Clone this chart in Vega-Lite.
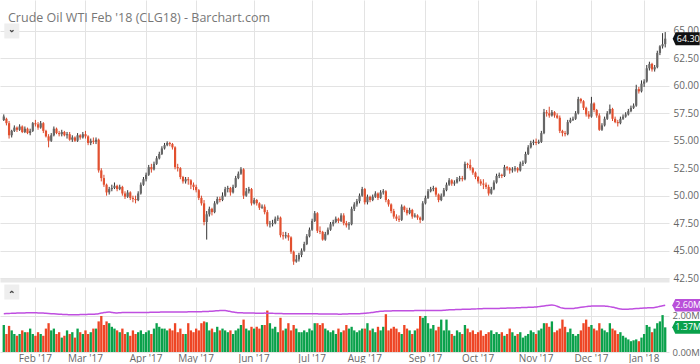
{
"$schema":"https://vega.github.io/schema/vega-lite/v6.json",
"padding":0,
"autosize":{"type":"pad"},
"background":"white",
"spacing":0,
"config":{"font":"Open Sans","view":{"stroke":null},
"axis":{"labelColor":"#666","labelFontSize":10,"gridColor":"#e3e3e3","ticks":false,"domain":false,"title":null,"labelOverlap":false}},
"datasets":{
"p":[
{"d":"2017-01-13","o":56.9,"h":57.4,"l":56.8,"c":57.2,"v":1.5,"oi":2.13},
{"d":"2017-01-17","o":57.0,"h":57.1,"l":56.4,"c":56.6,"v":1.0,"oi":2.14},
{"d":"2017-01-18","o":56.6,"h":56.8,"l":55.2,"c":55.5,"v":1.45,"oi":2.14},
{"d":"2017-01-19","o":55.5,"h":56.0,"l":55.3,"c":55.9,"v":1.2,"oi":2.15},
{"d":"2017-01-20","o":55.9,"h":56.4,"l":55.8,"c":56.2,"v":1.0,"oi":2.15},
{"d":"2017-01-23","o":56.2,"h":56.3,"l":55.8,"c":56.0,"v":0.9,"oi":2.16},
{"d":"2017-01-24","o":56.0,"h":56.5,"l":55.9,"c":56.3,"v":1.0,"oi":2.16},
{"d":"2017-01-25","o":56.3,"h":56.4,"l":55.7,"c":55.8,"v":1.2,"oi":2.17},
{"d":"2017-01-26","o":55.8,"h":56.3,"l":55.7,"c":56.1,"v":1.1,"oi":2.17},
{"d":"2017-01-27","o":56.1,"h":56.2,"l":55.6,"c":55.7,"v":1.1,"oi":2.18},
{"d":"2017-01-30","o":55.7,"h":56.1,"l":55.5,"c":55.9,"v":1.3,"oi":2.18},
{"d":"2017-01-31","o":55.9,"h":56.7,"l":55.8,"c":56.6,"v":1.0,"oi":2.18},
{"d":"2017-02-01","o":56.6,"h":56.9,"l":56.3,"c":56.5,"v":0.9,"oi":2.18},
{"d":"2017-02-02","o":56.5,"h":56.7,"l":56.0,"c":56.2,"v":1.1,"oi":2.17},
{"d":"2017-02-03","o":56.2,"h":56.8,"l":56.1,"c":56.6,"v":1.0,"oi":2.17},
{"d":"2017-02-06","o":56.6,"h":56.7,"l":55.7,"c":55.9,"v":0.9,"oi":2.16},
{"d":"2017-02-07","o":55.9,"h":56.0,"l":55.3,"c":55.4,"v":1.3,"oi":2.15},
{"d":"2017-02-08","o":55.4,"h":55.6,"l":54.4,"c":55.0,"v":1.6,"oi":2.14},
{"d":"2017-02-09","o":55.0,"h":55.7,"l":54.9,"c":55.5,"v":1.2,"oi":2.13},
{"d":"2017-02-10","o":55.5,"h":56.3,"l":55.4,"c":56.1,"v":1.3,"oi":2.12},
{"d":"2017-02-13","o":56.1,"h":56.2,"l":55.6,"c":55.7,"v":1.0,"oi":2.11},
{"d":"2017-02-14","o":55.7,"h":55.9,"l":55.4,"c":55.6,"v":1.1,"oi":2.10},
{"d":"2017-02-15","o":55.6,"h":56.0,"l":55.4,"c":55.8,"v":0.8,"oi":2.09},
{"d":"2017-02-16","o":55.8,"h":55.9,"l":55.4,"c":55.5,"v":0.9,"oi":2.08},
{"d":"2017-02-17","o":55.5,"h":55.8,"l":55.2,"c":55.6,"v":1.2,"oi":2.08},
{"d":"2017-02-21","o":55.6,"h":55.8,"l":55.0,"c":55.1,"v":1.0,"oi":2.07},
{"d":"2017-02-22","o":55.1,"h":55.5,"l":54.9,"c":55.3,"v":1.1,"oi":2.07},
{"d":"2017-02-23","o":55.3,"h":55.4,"l":54.9,"c":55.0,"v":0.8,"oi":2.07},
{"d":"2017-02-24","o":55.0,"h":55.7,"l":54.9,"c":55.5,"v":1.3,"oi":2.07},
{"d":"2017-02-27","o":55.5,"h":55.6,"l":55.1,"c":55.3,"v":1.1,"oi":2.08},
{"d":"2017-02-28","o":55.3,"h":55.8,"l":55.2,"c":55.6,"v":1.0,"oi":2.08},
{"d":"2017-03-01","o":55.6,"h":55.9,"l":55.2,"c":55.4,"v":1.2,"oi":2.08},
{"d":"2017-03-02","o":55.4,"h":55.5,"l":54.6,"c":54.8,"v":1.0,"oi":2.09},
{"d":"2017-03-03","o":54.8,"h":55.2,"l":54.6,"c":55.0,"v":1.1,"oi":2.09},
{"d":"2017-03-06","o":55.0,"h":55.3,"l":54.7,"c":54.9,"v":1.3,"oi":2.10},
{"d":"2017-03-07","o":54.9,"h":55.3,"l":54.7,"c":55.1,"v":1.3,"oi":2.11},
{"d":"2017-03-08","o":55.1,"h":55.2,"l":52.1,"c":52.3,"v":1.7,"oi":2.13},
{"d":"2017-03-09","o":52.3,"h":52.5,"l":51.3,"c":51.6,"v":2.0,"oi":2.16},
{"d":"2017-03-10","o":51.6,"h":51.9,"l":50.8,"c":51.0,"v":1.5,"oi":2.19},
{"d":"2017-03-13","o":51.0,"h":51.1,"l":50.0,"c":50.3,"v":1.7,"oi":2.21},
{"d":"2017-03-14","o":50.3,"h":50.8,"l":50.1,"c":50.6,"v":1.6,"oi":2.22},
{"d":"2017-03-15","o":50.6,"h":51.0,"l":50.4,"c":50.7,"v":1.4,"oi":2.20},
{"d":"2017-03-16","o":50.7,"h":51.2,"l":50.6,"c":50.9,"v":1.3,"oi":2.18},
{"d":"2017-03-17","o":50.9,"h":51.0,"l":50.4,"c":50.6,"v":1.2,"oi":2.17},
{"d":"2017-03-20","o":50.6,"h":51.0,"l":50.5,"c":50.8,"v":1.1,"oi":2.18},
{"d":"2017-03-21","o":50.8,"h":50.9,"l":50.0,"c":50.2,"v":1.3,"oi":2.19},
{"d":"2017-03-22","o":50.2,"h":50.4,"l":49.7,"c":49.9,"v":1.0,"oi":2.19},
{"d":"2017-03-23","o":49.9,"h":50.5,"l":49.8,"c":50.3,"v":1.1,"oi":2.20},
{"d":"2017-03-24","o":50.3,"h":50.4,"l":49.6,"c":49.8,"v":0.9,"oi":2.20},
{"d":"2017-03-27","o":49.8,"h":50.0,"l":49.4,"c":49.7,"v":1.2,"oi":2.20},
{"d":"2017-03-28","o":49.7,"h":50.0,"l":49.3,"c":49.6,"v":1.0,"oi":2.19},
{"d":"2017-03-29","o":49.6,"h":50.4,"l":49.5,"c":50.2,"v":1.1,"oi":2.19},
{"d":"2017-03-30","o":50.2,"h":51.2,"l":50.1,"c":51.0,"v":1.2,"oi":2.20},
{"d":"2017-03-31","o":51.0,"h":51.7,"l":50.9,"c":51.5,"v":1.0,"oi":2.20},
{"d":"2017-04-03","o":51.5,"h":52.1,"l":51.3,"c":51.9,"v":1.1,"oi":2.20},
{"d":"2017-04-04","o":51.9,"h":52.8,"l":51.8,"c":52.6,"v":1.2,"oi":2.20},
{"d":"2017-04-05","o":52.6,"h":52.9,"l":52.1,"c":52.4,"v":1.0,"oi":2.21},
{"d":"2017-04-06","o":52.4,"h":53.1,"l":52.3,"c":52.9,"v":1.3,"oi":2.21},
{"d":"2017-04-07","o":52.9,"h":53.6,"l":52.8,"c":53.4,"v":1.6,"oi":2.21},
{"d":"2017-04-10","o":53.4,"h":54.0,"l":53.3,"c":53.8,"v":1.4,"oi":2.21},
{"d":"2017-04-11","o":53.8,"h":54.5,"l":53.7,"c":54.3,"v":1.3,"oi":2.22},
{"d":"2017-04-12","o":54.3,"h":54.8,"l":54.2,"c":54.6,"v":1.3,"oi":2.22},
{"d":"2017-04-13","o":54.6,"h":54.95,"l":54.5,"c":54.8,"v":1.2,"oi":2.22},
{"d":"2017-04-17","o":54.8,"h":54.9,"l":54.5,"c":54.7,"v":1.3,"oi":2.22},
{"d":"2017-04-18","o":54.7,"h":54.8,"l":54.2,"c":54.4,"v":1.2,"oi":2.22},
{"d":"2017-04-19","o":54.4,"h":54.5,"l":52.4,"c":52.6,"v":1.6,"oi":2.22},
{"d":"2017-04-20","o":52.6,"h":52.9,"l":52.2,"c":52.5,"v":1.1,"oi":2.22},
{"d":"2017-04-21","o":52.5,"h":52.6,"l":51.5,"c":51.7,"v":1.3,"oi":2.22},
{"d":"2017-04-24","o":51.7,"h":51.8,"l":51.1,"c":51.3,"v":1.0,"oi":2.22},
{"d":"2017-04-25","o":51.3,"h":51.7,"l":51.1,"c":51.5,"v":1.0,"oi":2.22},
{"d":"2017-04-26","o":51.5,"h":51.7,"l":51.0,"c":51.4,"v":1.6,"oi":2.23},
{"d":"2017-04-27","o":51.4,"h":51.5,"l":50.6,"c":51.0,"v":1.2,"oi":2.23},
{"d":"2017-04-28","o":51.0,"h":51.2,"l":50.5,"c":50.8,"v":1.1,"oi":2.23},
{"d":"2017-05-01","o":50.8,"h":51.0,"l":50.3,"c":50.5,"v":1.3,"oi":2.23},
{"d":"2017-05-02","o":50.5,"h":50.6,"l":49.6,"c":49.8,"v":1.2,"oi":2.24},
{"d":"2017-05-03","o":49.8,"h":50.0,"l":49.1,"c":49.3,"v":1.6,"oi":2.24},
{"d":"2017-05-04","o":49.3,"h":49.6,"l":47.3,"c":47.6,"v":1.7,"oi":2.25},
{"d":"2017-05-05","o":47.6,"h":48.6,"l":46.0,"c":48.3,"v":1.65,"oi":2.25},
{"d":"2017-05-08","o":48.3,"h":49.0,"l":48.1,"c":48.8,"v":1.2,"oi":2.26},
{"d":"2017-05-09","o":48.8,"h":48.9,"l":48.2,"c":48.5,"v":1.3,"oi":2.27},
{"d":"2017-05-10","o":48.5,"h":49.5,"l":48.4,"c":49.3,"v":1.1,"oi":2.28},
{"d":"2017-05-11","o":49.3,"h":49.9,"l":49.2,"c":49.7,"v":1.4,"oi":2.29},
{"d":"2017-05-12","o":49.7,"h":49.9,"l":49.4,"c":49.6,"v":1.2,"oi":2.30},
{"d":"2017-05-15","o":49.6,"h":50.3,"l":49.5,"c":50.0,"v":1.3,"oi":2.31},
{"d":"2017-05-16","o":50.0,"h":50.8,"l":49.9,"c":50.6,"v":1.2,"oi":2.30},
{"d":"2017-05-17","o":50.6,"h":50.9,"l":50.3,"c":50.7,"v":1.1,"oi":2.28},
{"d":"2017-05-18","o":50.7,"h":50.8,"l":50.0,"c":50.3,"v":1.2,"oi":2.25},
{"d":"2017-05-19","o":50.3,"h":51.0,"l":50.2,"c":50.8,"v":1.0,"oi":2.22},
{"d":"2017-05-22","o":50.8,"h":51.8,"l":50.7,"c":51.6,"v":1.2,"oi":2.20},
{"d":"2017-05-23","o":51.6,"h":52.2,"l":51.5,"c":52.0,"v":1.3,"oi":2.18},
{"d":"2017-05-24","o":52.0,"h":52.6,"l":51.9,"c":52.4,"v":1.5,"oi":2.18},
{"d":"2017-05-25","o":52.4,"h":52.5,"l":49.7,"c":50.0,"v":1.8,"oi":2.17},
{"d":"2017-05-26","o":50.0,"h":50.7,"l":49.9,"c":50.4,"v":1.3,"oi":2.17},
{"d":"2017-05-30","o":50.4,"h":50.8,"l":50.2,"c":50.6,"v":1.2,"oi":2.16},
{"d":"2017-05-31","o":50.6,"h":50.7,"l":49.1,"c":49.3,"v":1.4,"oi":2.16},
{"d":"2017-06-01","o":49.3,"h":49.8,"l":49.2,"c":49.6,"v":1.3,"oi":2.16},
{"d":"2017-06-02","o":49.6,"h":49.7,"l":49.1,"c":49.3,"v":1.4,"oi":2.15},
{"d":"2017-06-05","o":49.3,"h":49.4,"l":48.7,"c":48.9,"v":1.3,"oi":2.15},
{"d":"2017-06-06","o":48.9,"h":49.2,"l":48.8,"c":49.0,"v":1.5,"oi":2.15},
{"d":"2017-06-07","o":49.0,"h":49.2,"l":48.3,"c":48.5,"v":1.5,"oi":2.16},
{"d":"2017-06-08","o":48.5,"h":48.7,"l":47.2,"c":47.4,"v":2.3,"oi":2.15},
{"d":"2017-06-09","o":47.4,"h":47.7,"l":47.1,"c":47.45,"v":1.6,"oi":2.15},
{"d":"2017-06-12","o":47.4,"h":47.8,"l":47.2,"c":47.5,"v":1.3,"oi":2.15},
{"d":"2017-06-13","o":47.5,"h":48.1,"l":47.4,"c":47.9,"v":1.4,"oi":2.14},
{"d":"2017-06-14","o":47.9,"h":48.2,"l":47.7,"c":48.0,"v":1.1,"oi":2.14},
{"d":"2017-06-15","o":48.0,"h":48.1,"l":46.2,"c":46.4,"v":1.9,"oi":2.14},
{"d":"2017-06-16","o":46.4,"h":46.7,"l":46.0,"c":46.3,"v":1.2,"oi":2.13},
{"d":"2017-06-19","o":46.3,"h":46.7,"l":46.1,"c":46.4,"v":1.3,"oi":2.13},
{"d":"2017-06-20","o":46.4,"h":46.6,"l":45.9,"c":46.2,"v":1.6,"oi":2.13},
{"d":"2017-06-21","o":46.2,"h":46.3,"l":44.7,"c":44.9,"v":1.2,"oi":2.13},
{"d":"2017-06-22","o":44.9,"h":45.0,"l":43.7,"c":44.0,"v":1.5,"oi":2.13},
{"d":"2017-06-23","o":44.0,"h":44.6,"l":43.9,"c":44.2,"v":1.3,"oi":2.12},
{"d":"2017-06-26","o":44.2,"h":44.8,"l":44.0,"c":44.6,"v":1.1,"oi":2.12},
{"d":"2017-06-27","o":44.6,"h":45.2,"l":44.4,"c":45.0,"v":1.1,"oi":2.12},
{"d":"2017-06-28","o":45.0,"h":45.8,"l":44.9,"c":45.6,"v":1.2,"oi":2.12},
{"d":"2017-06-29","o":45.6,"h":46.5,"l":45.5,"c":46.3,"v":1.1,"oi":2.12},
{"d":"2017-06-30","o":46.3,"h":47.1,"l":46.2,"c":46.9,"v":1.3,"oi":2.12},
{"d":"2017-07-03","o":46.9,"h":47.9,"l":46.8,"c":47.7,"v":1.2,"oi":2.12},
{"d":"2017-07-05","o":47.7,"h":48.6,"l":47.6,"c":48.4,"v":1.6,"oi":2.12},
{"d":"2017-07-06","o":48.4,"h":48.5,"l":46.6,"c":46.8,"v":1.6,"oi":2.12},
{"d":"2017-07-07","o":46.8,"h":47.2,"l":46.5,"c":46.7,"v":1.5,"oi":2.11},
{"d":"2017-07-10","o":46.7,"h":46.8,"l":45.9,"c":46.0,"v":1.6,"oi":2.11},
{"d":"2017-07-11","o":46.0,"h":46.7,"l":45.9,"c":46.5,"v":1.3,"oi":2.11},
{"d":"2017-07-12","o":46.5,"h":47.1,"l":46.4,"c":46.9,"v":1.2,"oi":2.11},
{"d":"2017-07-13","o":46.9,"h":47.6,"l":46.8,"c":47.4,"v":1.1,"oi":2.11},
{"d":"2017-07-14","o":47.4,"h":47.8,"l":47.2,"c":47.6,"v":1.2,"oi":2.11},
{"d":"2017-07-17","o":47.6,"h":48.1,"l":47.5,"c":47.9,"v":1.0,"oi":2.11},
{"d":"2017-07-18","o":47.9,"h":48.0,"l":47.5,"c":47.7,"v":1.3,"oi":2.10},
{"d":"2017-07-19","o":47.7,"h":48.4,"l":47.6,"c":48.2,"v":1.1,"oi":2.10},
{"d":"2017-07-20","o":48.2,"h":48.4,"l":47.3,"c":47.5,"v":1.2,"oi":2.11},
{"d":"2017-07-21","o":47.5,"h":47.7,"l":47.1,"c":47.3,"v":1.5,"oi":2.11},
{"d":"2017-07-24","o":47.3,"h":47.6,"l":46.9,"c":47.4,"v":1.3,"oi":2.12},
{"d":"2017-07-25","o":47.4,"h":49.0,"l":47.3,"c":48.8,"v":1.4,"oi":2.12},
{"d":"2017-07-26","o":48.8,"h":49.4,"l":48.6,"c":49.2,"v":1.2,"oi":2.13},
{"d":"2017-07-27","o":49.2,"h":49.7,"l":49.0,"c":49.5,"v":1.1,"oi":2.13},
{"d":"2017-07-28","o":49.5,"h":50.2,"l":49.3,"c":50.0,"v":1.2,"oi":2.13},
{"d":"2017-07-31","o":50.0,"h":50.8,"l":49.9,"c":50.6,"v":1.3,"oi":2.14},
{"d":"2017-08-01","o":50.6,"h":50.7,"l":49.2,"c":49.4,"v":1.3,"oi":2.15},
{"d":"2017-08-02","o":49.4,"h":50.1,"l":49.2,"c":49.9,"v":1.6,"oi":2.16},
{"d":"2017-08-03","o":49.9,"h":50.0,"l":49.4,"c":49.6,"v":1.2,"oi":2.18},
{"d":"2017-08-04","o":49.6,"h":50.1,"l":49.5,"c":49.9,"v":1.3,"oi":2.20},
{"d":"2017-08-07","o":49.9,"h":50.4,"l":49.8,"c":50.2,"v":1.1,"oi":2.22},
{"d":"2017-08-08","o":50.2,"h":50.3,"l":49.6,"c":49.8,"v":1.4,"oi":2.24},
{"d":"2017-08-09","o":49.8,"h":50.5,"l":49.7,"c":50.3,"v":1.2,"oi":2.26},
{"d":"2017-08-10","o":50.3,"h":50.6,"l":50.1,"c":50.4,"v":1.4,"oi":2.27},
{"d":"2017-08-11","o":50.4,"h":50.5,"l":49.4,"c":49.6,"v":2.1,"oi":2.28},
{"d":"2017-08-14","o":49.6,"h":49.7,"l":49.0,"c":49.2,"v":1.2,"oi":2.28},
{"d":"2017-08-15","o":49.2,"h":49.3,"l":48.4,"c":48.6,"v":1.3,"oi":2.28},
{"d":"2017-08-16","o":48.6,"h":48.8,"l":47.9,"c":48.1,"v":1.4,"oi":2.29},
{"d":"2017-08-17","o":48.1,"h":48.3,"l":47.7,"c":47.9,"v":1.3,"oi":2.29},
{"d":"2017-08-18","o":47.9,"h":48.2,"l":47.6,"c":47.8,"v":1.1,"oi":2.29},
{"d":"2017-08-21","o":47.8,"h":49.2,"l":47.7,"c":49.0,"v":1.0,"oi":2.29},
{"d":"2017-08-22","o":49.0,"h":49.1,"l":48.5,"c":48.7,"v":1.5,"oi":2.29},
{"d":"2017-08-23","o":48.7,"h":48.9,"l":48.2,"c":48.4,"v":1.3,"oi":2.29},
{"d":"2017-08-24","o":48.4,"h":48.9,"l":48.3,"c":48.7,"v":1.2,"oi":2.29},
{"d":"2017-08-25","o":48.7,"h":48.8,"l":47.9,"c":48.1,"v":1.0,"oi":2.29},
{"d":"2017-08-28","o":48.1,"h":48.4,"l":48.0,"c":48.2,"v":1.2,"oi":2.30},
{"d":"2017-08-29","o":48.2,"h":48.3,"l":47.8,"c":48.0,"v":1.3,"oi":2.30},
{"d":"2017-08-30","o":48.0,"h":48.1,"l":47.5,"c":47.8,"v":2.0,"oi":2.30},
{"d":"2017-08-31","o":47.8,"h":49.5,"l":47.7,"c":49.3,"v":1.9,"oi":2.30},
{"d":"2017-09-01","o":49.3,"h":50.0,"l":49.2,"c":49.8,"v":2.0,"oi":2.30},
{"d":"2017-09-05","o":49.8,"h":50.6,"l":49.7,"c":50.4,"v":1.6,"oi":2.30},
{"d":"2017-09-06","o":50.4,"h":50.8,"l":50.3,"c":50.6,"v":1.3,"oi":2.30},
{"d":"2017-09-07","o":50.6,"h":50.9,"l":50.4,"c":50.7,"v":1.5,"oi":2.30},
{"d":"2017-09-08","o":50.7,"h":50.8,"l":49.9,"c":50.1,"v":1.2,"oi":2.30},
{"d":"2017-09-11","o":50.1,"h":50.2,"l":49.4,"c":49.6,"v":1.4,"oi":2.30},
{"d":"2017-09-12","o":49.6,"h":50.2,"l":49.5,"c":50.0,"v":1.8,"oi":2.31},
{"d":"2017-09-13","o":50.0,"h":50.7,"l":49.9,"c":50.5,"v":1.2,"oi":2.32},
{"d":"2017-09-14","o":50.5,"h":51.2,"l":50.4,"c":51.0,"v":1.8,"oi":2.33},
{"d":"2017-09-15","o":51.0,"h":51.6,"l":50.9,"c":51.4,"v":1.2,"oi":2.34},
{"d":"2017-09-18","o":51.4,"h":51.5,"l":50.9,"c":51.1,"v":1.0,"oi":2.35},
{"d":"2017-09-19","o":51.1,"h":51.4,"l":50.9,"c":51.2,"v":0.9,"oi":2.35},
{"d":"2017-09-20","o":51.2,"h":51.7,"l":51.1,"c":51.5,"v":1.2,"oi":2.36},
{"d":"2017-09-21","o":51.5,"h":51.8,"l":51.3,"c":51.6,"v":1.1,"oi":2.36},
{"d":"2017-09-22","o":51.6,"h":51.8,"l":51.3,"c":51.5,"v":1.0,"oi":2.37},
{"d":"2017-09-25","o":51.5,"h":53.1,"l":51.4,"c":52.9,"v":1.5,"oi":2.37},
{"d":"2017-09-26","o":52.9,"h":53.0,"l":52.5,"c":52.8,"v":1.3,"oi":2.38},
{"d":"2017-09-27","o":52.8,"h":53.3,"l":52.3,"c":52.5,"v":1.1,"oi":2.38},
{"d":"2017-09-28","o":52.5,"h":52.6,"l":51.9,"c":52.1,"v":1.2,"oi":2.39},
{"d":"2017-09-29","o":52.1,"h":52.2,"l":51.5,"c":51.7,"v":1.0,"oi":2.39},
{"d":"2017-10-02","o":51.7,"h":51.8,"l":51.1,"c":51.3,"v":1.1,"oi":2.40},
{"d":"2017-10-03","o":51.3,"h":51.5,"l":50.9,"c":51.1,"v":1.2,"oi":2.40},
{"d":"2017-10-04","o":51.1,"h":51.5,"l":50.6,"c":51.0,"v":0.9,"oi":2.41},
{"d":"2017-10-05","o":51.0,"h":51.2,"l":50.6,"c":50.8,"v":1.0,"oi":2.41},
{"d":"2017-10-06","o":50.8,"h":51.0,"l":50.0,"c":50.2,"v":1.1,"oi":2.41},
{"d":"2017-10-09","o":50.2,"h":50.8,"l":50.1,"c":50.6,"v":1.2,"oi":2.41},
{"d":"2017-10-10","o":50.6,"h":51.4,"l":50.5,"c":51.2,"v":1.0,"oi":2.42},
{"d":"2017-10-11","o":51.2,"h":52.0,"l":51.1,"c":51.8,"v":1.1,"oi":2.42},
{"d":"2017-10-12","o":51.8,"h":52.1,"l":51.6,"c":51.9,"v":1.0,"oi":2.42},
{"d":"2017-10-13","o":51.9,"h":52.0,"l":51.6,"c":51.8,"v":1.1,"oi":2.43},
{"d":"2017-10-16","o":51.8,"h":52.8,"l":51.7,"c":52.6,"v":0.9,"oi":2.43},
{"d":"2017-10-17","o":52.6,"h":52.7,"l":52.3,"c":52.5,"v":1.0,"oi":2.44},
{"d":"2017-10-18","o":52.5,"h":52.6,"l":52.0,"c":52.3,"v":1.3,"oi":2.44},
{"d":"2017-10-19","o":52.3,"h":52.6,"l":52.1,"c":52.4,"v":1.1,"oi":2.45},
{"d":"2017-10-20","o":52.4,"h":52.7,"l":52.2,"c":52.5,"v":0.9,"oi":2.45},
{"d":"2017-10-23","o":52.5,"h":52.6,"l":52.1,"c":52.3,"v":1.0,"oi":2.46},
{"d":"2017-10-24","o":52.3,"h":53.1,"l":52.2,"c":52.9,"v":1.1,"oi":2.46},
{"d":"2017-10-25","o":52.9,"h":53.2,"l":52.7,"c":53.0,"v":0.8,"oi":2.47},
{"d":"2017-10-26","o":53.0,"h":54.0,"l":52.9,"c":53.8,"v":0.9,"oi":2.47},
{"d":"2017-10-27","o":53.8,"h":54.6,"l":53.7,"c":54.4,"v":1.0,"oi":2.48},
{"d":"2017-10-30","o":54.4,"h":55.0,"l":54.3,"c":54.8,"v":1.2,"oi":2.48},
{"d":"2017-10-31","o":54.8,"h":55.1,"l":54.6,"c":54.9,"v":1.1,"oi":2.49},
{"d":"2017-11-01","o":54.9,"h":55.2,"l":54.6,"c":54.8,"v":1.0,"oi":2.50},
{"d":"2017-11-02","o":54.8,"h":55.1,"l":54.7,"c":54.9,"v":1.2,"oi":2.52},
{"d":"2017-11-03","o":54.9,"h":55.9,"l":54.8,"c":55.7,"v":1.3,"oi":2.54},
{"d":"2017-11-06","o":55.7,"h":57.9,"l":55.6,"c":57.6,"v":1.6,"oi":2.56},
{"d":"2017-11-07","o":57.6,"h":57.8,"l":57.2,"c":57.5,"v":1.6,"oi":2.58},
{"d":"2017-11-08","o":57.5,"h":58.1,"l":57.1,"c":57.3,"v":1.4,"oi":2.60},
{"d":"2017-11-09","o":57.3,"h":57.8,"l":57.2,"c":57.6,"v":1.7,"oi":2.61},
{"d":"2017-11-10","o":57.6,"h":57.7,"l":57.1,"c":57.3,"v":1.1,"oi":2.59},
{"d":"2017-11-13","o":57.3,"h":57.5,"l":57.0,"c":57.1,"v":1.2,"oi":2.54},
{"d":"2017-11-14","o":57.1,"h":57.3,"l":55.7,"c":55.9,"v":1.3,"oi":2.48},
{"d":"2017-11-15","o":55.9,"h":56.0,"l":55.4,"c":55.7,"v":1.8,"oi":2.44},
{"d":"2017-11-16","o":55.7,"h":55.9,"l":55.4,"c":55.6,"v":1.4,"oi":2.42},
{"d":"2017-11-17","o":55.6,"h":56.9,"l":55.5,"c":56.7,"v":1.1,"oi":2.41},
{"d":"2017-11-20","o":56.7,"h":57.1,"l":56.6,"c":56.9,"v":1.3,"oi":2.41},
{"d":"2017-11-21","o":56.9,"h":57.2,"l":56.8,"c":57.0,"v":1.0,"oi":2.42},
{"d":"2017-11-22","o":57.0,"h":57.7,"l":56.9,"c":57.5,"v":0.9,"oi":2.44},
{"d":"2017-11-24","o":57.5,"h":59.0,"l":57.4,"c":58.8,"v":1.0,"oi":2.46},
{"d":"2017-11-27","o":58.8,"h":58.9,"l":58.4,"c":58.6,"v":1.2,"oi":2.48},
{"d":"2017-11-28","o":58.6,"h":58.7,"l":57.8,"c":58.0,"v":1.6,"oi":2.50},
{"d":"2017-11-29","o":58.0,"h":58.1,"l":57.2,"c":57.4,"v":1.8,"oi":2.52},
{"d":"2017-11-30","o":57.4,"h":57.7,"l":57.0,"c":57.2,"v":1.4,"oi":2.54},
{"d":"2017-12-01","o":57.2,"h":59.0,"l":57.1,"c":58.4,"v":1.5,"oi":2.55},
{"d":"2017-12-04","o":58.4,"h":58.5,"l":57.6,"c":57.8,"v":1.3,"oi":2.56},
{"d":"2017-12-05","o":57.8,"h":57.9,"l":57.1,"c":57.3,"v":1.2,"oi":2.56},
{"d":"2017-12-06","o":57.3,"h":57.5,"l":55.9,"c":56.0,"v":1.6,"oi":2.56},
{"d":"2017-12-07","o":56.0,"h":56.6,"l":55.9,"c":56.4,"v":1.3,"oi":2.56},
{"d":"2017-12-08","o":56.4,"h":57.2,"l":56.3,"c":57.0,"v":1.2,"oi":2.55},
{"d":"2017-12-11","o":57.0,"h":57.7,"l":56.9,"c":57.5,"v":1.1,"oi":2.54},
{"d":"2017-12-12","o":57.5,"h":58.3,"l":57.4,"c":57.9,"v":1.6,"oi":2.52},
{"d":"2017-12-13","o":57.9,"h":58.0,"l":56.8,"c":57.0,"v":1.3,"oi":2.49},
{"d":"2017-12-14","o":57.0,"h":57.2,"l":56.6,"c":56.7,"v":1.2,"oi":2.46},
{"d":"2017-12-15","o":56.7,"h":56.9,"l":56.3,"c":56.6,"v":1.0,"oi":2.42},
{"d":"2017-12-18","o":56.6,"h":57.2,"l":56.5,"c":57.0,"v":1.1,"oi":2.39},
{"d":"2017-12-19","o":57.0,"h":57.4,"l":56.9,"c":57.2,"v":0.9,"oi":2.37},
{"d":"2017-12-20","o":57.2,"h":57.6,"l":57.1,"c":57.4,"v":0.8,"oi":2.37},
{"d":"2017-12-21","o":57.4,"h":57.9,"l":57.3,"c":57.7,"v":0.7,"oi":2.38},
{"d":"2017-12-22","o":57.7,"h":58.2,"l":57.6,"c":58.0,"v":0.6,"oi":2.39},
{"d":"2017-12-26","o":58.0,"h":58.4,"l":57.9,"c":58.2,"v":0.65,"oi":2.40},
{"d":"2017-12-27","o":58.2,"h":60.1,"l":58.1,"c":59.7,"v":0.7,"oi":2.41},
{"d":"2017-12-28","o":59.7,"h":59.9,"l":59.3,"c":59.5,"v":0.6,"oi":2.42},
{"d":"2017-12-29","o":59.5,"h":60.5,"l":59.4,"c":60.2,"v":0.8,"oi":2.43},
{"d":"2018-01-02","o":60.2,"h":60.6,"l":59.9,"c":60.4,"v":1.0,"oi":2.44},
{"d":"2018-01-03","o":60.4,"h":61.9,"l":60.3,"c":61.6,"v":1.5,"oi":2.45},
{"d":"2018-01-04","o":61.6,"h":62.2,"l":61.4,"c":62.0,"v":1.4,"oi":2.46},
{"d":"2018-01-05","o":62.0,"h":62.1,"l":61.3,"c":61.5,"v":1.1,"oi":2.46},
{"d":"2018-01-08","o":61.5,"h":61.9,"l":61.3,"c":61.7,"v":1.3,"oi":2.47},
{"d":"2018-01-09","o":61.7,"h":63.2,"l":61.6,"c":63.0,"v":1.6,"oi":2.50},
{"d":"2018-01-10","o":63.0,"h":63.7,"l":62.8,"c":63.6,"v":1.7,"oi":2.54},
{"d":"2018-01-11","o":63.6,"h":64.8,"l":63.4,"c":63.8,"v":2.05,"oi":2.57},
{"d":"2018-01-12","o":63.8,"h":64.9,"l":63.5,"c":64.3,"v":1.37,"oi":2.60}
],
"badge":[
{"d":"2018-01-12","y":64.3,"t":"64.30","k":"p"},
{"d":"2018-01-12","y":2.6,"t":"2.60M","k":"oi"},
{"d":"2018-01-12","y":1.37,"t":"1.37M","k":"v"}
],
"btn":[
{"d":"2017-01-13","y":65,"k":"p"},
{"d":"2017-01-13","y":3.33,"k":"v"}
]
},
"vconcat":[
{
"width":669,"height":280,
"title":{"text":"Crude Oil WTI Feb '18 (CLG18) - Barchart.com","anchor":"start","orient":"top","offset":-24,"dx":8,"fontSize":12.5,"fontWeight":"normal","color":"#777","font":"Open Sans"},
"encoding":{"x":{"field":"d","type":"ordinal","scale":{"paddingInner":0.12,"paddingOuter":1.5},
"axis":{"values":["2017-02-01","2017-03-01","2017-04-03","2017-05-01","2017-06-01","2017-07-03","2017-08-01","2017-09-01","2017-10-02","2017-11-01","2017-12-01","2018-01-02"],"labels":false,"grid":true,"domain":true,"domainColor":"#e8e8e8","domainWidth":4}}},
"layer":[
{"data":{"name":"p"},"mark":{"type":"rule","strokeWidth":1},
"encoding":{"y":{"field":"l","type":"quantitative","scale":{"domain":[42.32,67.82],"nice":false,"zero":false},
"axis":{"orient":"right","values":[42.5,45,47.5,50,52.5,55,57.5,60,62.5,65],"tickCount":20,"format":".2f","grid":true,"labelPadding":4,"labelOverlap":false}},
"y2":{"field":"h"},
"color":{"condition":{"test":"datum.c>=datum.o","value":"#333333"},"value":"#d9472b"}}},
{"data":{"name":"p"},"mark":{"type":"bar","size":2.2},
"encoding":{"y":{"field":"o","type":"quantitative"},"y2":{"field":"c"},
"color":{"condition":{"test":"datum.c>=datum.o","value":"#666666"},"value":"#e2502f"}}},
{"data":{"name":"badge"},"transform":[{"filter":"datum.k=='p'"}],
"mark":{"type":"point","shape":"M-1,0L-0.78,-0.48L1,-0.48L1,0.48L-0.78,0.48Z","size":729,"filled":true,"opacity":1,"xOffset":21,"color":"#111111"},
"encoding":{"y":{"field":"y","type":"quantitative"}}},
{"data":{"name":"badge"},"transform":[{"filter":"datum.k=='p'"}],
"mark":{"type":"text","xOffset":23,"color":"white","fontSize":9,"font":"Open Sans"},
"encoding":{"y":{"field":"y","type":"quantitative"},"text":{"field":"t"}}},
{"data":{"name":"btn"},"transform":[{"filter":"datum.k=='p'"}],
"mark":{"type":"point","shape":"square","size":225,"filled":true,"opacity":1,"xOffset":8,"color":"#eeeeee"},
"encoding":{"y":{"field":"y","type":"quantitative"}}},
{"data":{"name":"btn"},"transform":[{"filter":"datum.k=='p'"}],
"mark":{"type":"point","shape":"M-0.5,-0.22L0,0.22L0.5,-0.22","size":49,"filled":false,"opacity":1,"strokeWidth":1.3,"xOffset":8,"color":"#444444"},
"encoding":{"y":{"field":"y","type":"quantitative"}}}
]
},
{
"width":669,"height":65,
"encoding":{"x":{"field":"d","type":"ordinal","scale":{"paddingInner":0.12,"paddingOuter":1.5},
"axis":{"values":["2017-02-01","2017-03-01","2017-04-03","2017-05-01","2017-06-01","2017-07-03","2017-08-01","2017-09-01","2017-10-02","2017-11-01","2017-12-01","2018-01-02"],"labelExpr":"utcFormat(toDate(datum.value), \"%b '%y\")","labelAngle":0,"grid":true,"labelPadding":1}}},
"layer":[
{"data":{"name":"p"},"mark":{"type":"bar"},
"encoding":{"y":{"field":"v","type":"quantitative","scale":{"domain":[0,3.61],"nice":false},
"axis":{"orient":"right","values":[0,2],"tickCount":10,"labelExpr":"format(datum.value,'.2f')+'M'","grid":true,"labelPadding":3,"labelFontSize":9.5,"labelOverlap":false}},
"color":{"condition":{"test":"datum.c>=datum.o","value":"#0aa14b"},"value":"#ee4524"}}},
{"data":{"name":"p"},"mark":{"type":"line","color":"#bf4fe0","strokeWidth":1.5,"interpolate":"monotone"},
"encoding":{"y":{"field":"oi","type":"quantitative"}}},
{"data":{"name":"badge"},"transform":[{"filter":"datum.k!='p'"}],
"mark":{"type":"point","shape":"M-1,0L-0.78,-0.45L1,-0.45L1,0.45L-0.78,0.45Z","size":784,"filled":true,"opacity":1,"xOffset":21},
"encoding":{"y":{"field":"y","type":"quantitative"},
"color":{"field":"k","type":"nominal","scale":{"domain":["oi","v"],"range":["#b94fd9","#0aa14b"]},"legend":null}}},
{"data":{"name":"badge"},"transform":[{"filter":"datum.k!='p'"}],
"mark":{"type":"text","xOffset":23,"color":"white","fontSize":9,"font":"Open Sans"},
"encoding":{"y":{"field":"y","type":"quantitative"},"text":{"field":"t"}}},
{"data":{"name":"btn"},"transform":[{"filter":"datum.k=='v'"}],
"mark":{"type":"point","shape":"square","size":225,"filled":true,"opacity":1,"xOffset":8,"color":"#eeeeee"},
"encoding":{"y":{"field":"y","type":"quantitative"}}},
{"data":{"name":"btn"},"transform":[{"filter":"datum.k=='v'"}],
"mark":{"type":"point","shape":"M-0.5,0.22L0,-0.22L0.5,0.22","size":49,"filled":false,"opacity":1,"strokeWidth":1.3,"xOffset":8,"color":"#444444"},
"encoding":{"y":{"field":"y","type":"quantitative"}}}
]
}
]
}
